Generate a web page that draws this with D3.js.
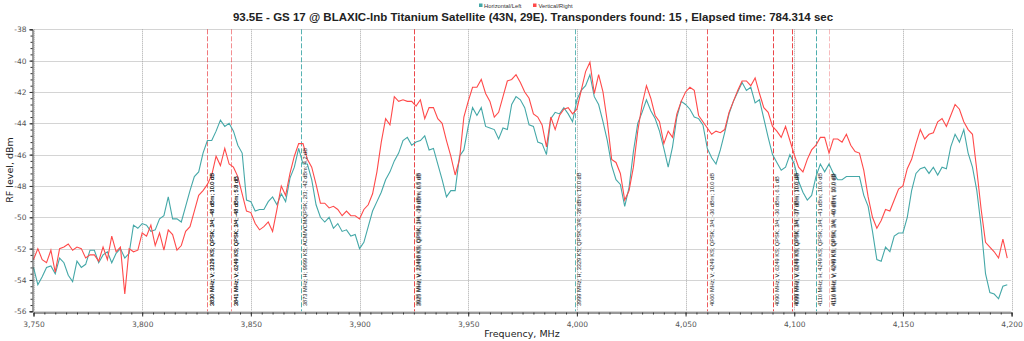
<!DOCTYPE html>
<html><head><meta charset="utf-8">
<script src="https://cdn.jsdelivr.net/npm/d3@7"></script>
<style>body{margin:0;background:#fff;}svg{display:block;}</style>
</head><body>
<svg id="chart" width="1024" height="341"></svg>
<script>
// ---- data ----
const startFreq = 3750;
const stepMHz = 2;
const horizontal = [
-53.2,-54.3,-53.8,-53.2,-53.1,-53.6,-52.6,-52.9,-53.7,-54.1,
-52.8,-53.2,-53.0,-52.1,-52.1,-52.9,-52.4,-52.2,-52.9,-52.3,
-52.0,-52.6,-52.3,-50.5,-50.7,-50.4,-50.5,-50.9,-50.8,-50.1,
-49.9,-48.7,-50.1,-50.1,-50.3,-49.3,-48.3,-47.4,-47.1,-45.9,
-45.1,-45.1,-44.5,-43.8,-44.2,-44.0,-44.5,-45.4,-45.9,-48.9,
-49.0,-49.6,-49.5,-49.5,-49.0,-48.7,-49.2,-48.5,-49.0,-47.5,
-46.8,-45.6,-46.6,-46.6,-47.6,-49.2,-50.0,-50.3,-50.0,-50.7,
-50.4,-50.9,-50.8,-51.2,-51.1,-52.0,-51.6,-50.6,-49.6,-49.0,
-48.4,-47.6,-47.1,-46.4,-45.9,-45.1,-44.9,-45.4,-45.2,-45.1,
-44.8,-45.7,-45.6,-46.6,-47.6,-48.7,-48.3,-48.3,-46.1,-45.7,
-44.2,-43.0,-43.5,-43.0,-44.2,-44.3,-44.4,-45.0,-44.3,-44.4,
-42.8,-42.3,-42.5,-43.0,-44.1,-44.2,-45.2,-45.3,-46.0,-43.7,
-43.3,-43.4,-43.0,-43.4,-43.9,-42.5,-41.9,-41.6,-40.9,-42.3,
-42.8,-43.9,-45.1,-46.7,-47.6,-47.9,-49.3,-48.1,-45.8,-44.0,
-43.3,-42.5,-43.2,-43.7,-44.5,-45.6,-46.8,-45.5,-43.6,-42.6,
-42.8,-43.1,-43.6,-43.7,-44.1,-45.6,-46.2,-46.6,-45.7,-44.6,
-43.4,-42.6,-42.0,-41.4,-41.9,-41.7,-42.7,-42.5,-43.7,-44.9,
-46.0,-46.5,-47.0,-46.8,-46.0,-46.6,-47.7,-48.4,-48.9,-48.6,
-47.4,-46.6,-47.1,-46.6,-47.2,-47.6,-47.6,-47.4,-47.4,-47.4,
-47.4,-48.6,-49.3,-50.9,-52.7,-52.8,-51.9,-52.2,-51.2,-51.0,
-51.0,-50.0,-48.3,-47.2,-46.9,-46.8,-47.2,-46.8,-47.3,-46.8,
-46.9,-45.5,-44.7,-45.2,-44.4,-45.9,-46.8,-48.3,-50.6,-53.6,
-54.8,-54.9,-55.2,-54.4,-54.3
];
const vertical = [
-52.7,-52.0,-52.7,-52.9,-52.1,-53.5,-52.0,-51.9,-51.7,-52.1,
-51.9,-52.0,-52.6,-52.4,-52.4,-52.8,-51.9,-52.7,-51.2,-52.2,
-51.9,-54.9,-52.0,-52.2,-52.1,-51.0,-51.2,-50.5,-51.8,-51.0,
-52.1,-50.8,-51.1,-52.1,-51.8,-50.9,-50.6,-49.6,-48.6,-48.3,
-47.9,-47.3,-46.1,-46.7,-45.6,-46.6,-46.8,-47.4,-48.5,-49.6,
-49.7,-50.4,-50.8,-50.6,-50.3,-50.9,-49.5,-48.0,-48.6,-47.2,
-46.1,-45.3,-45.3,-46.3,-46.8,-47.9,-49.1,-49.1,-49.4,-49.3,
-49.5,-49.9,-49.6,-49.9,-49.9,-50.1,-49.5,-49.2,-48.5,-47.1,
-45.2,-43.7,-44.1,-42.3,-42.6,-42.5,-42.6,-42.6,-42.9,-42.5,
-43.7,-43.0,-43.0,-43.7,-44.0,-45.1,-46.1,-47.3,-46.3,-43.6,
-42.6,-41.7,-41.7,-41.2,-42.1,-42.6,-43.6,-43.3,-42.3,-41.3,
-41.2,-40.9,-41.4,-42.0,-42.4,-43.4,-43.6,-44.1,-45.5,-43.6,
-44.4,-43.5,-43.1,-43.0,-43.4,-43.1,-41.9,-40.7,-40.1,-42.1,
-40.9,-42.0,-43.9,-46.3,-46.5,-47.2,-48.9,-48.3,-46.8,-44.5,
-42.8,-41.6,-42.4,-43.5,-43.9,-45.3,-44.5,-44.9,-43.4,-42.6,
-42.0,-41.7,-41.9,-43.5,-43.9,-44.3,-44.7,-44.5,-44.6,-44.4,
-43.3,-42.6,-41.9,-41.3,-41.3,-41.6,-41.1,-42.1,-43.0,-43.3,
-44.2,-44.5,-44.9,-44.2,-45.1,-46.0,-46.8,-47.1,-46.3,-45.7,
-45.4,-44.9,-44.9,-45.9,-45.0,-45.0,-45.2,-44.7,-45.4,-45.8,
-45.9,-47.0,-48.7,-50.0,-50.7,-50.2,-49.5,-49.6,-48.9,-48.2,
-48.0,-46.9,-46.3,-45.3,-44.4,-45.0,-44.7,-44.6,-43.9,-43.7,
-44.2,-43.5,-42.8,-43.1,-43.9,-44.4,-44.7,-47.0,-49.5,-51.6,
-51.9,-52.2,-52.6,-51.4,-52.6
];
const xTicks = [3750,3800,3850,3900,3950,4000,4050,4100,4150,4200];
const yTicks = [-38,-40,-42,-44,-46,-48,-50,-52,-54,-56];
// transponders (15 found; duplicates overlap)
const tpFreq  = [3830,3830,3841,3841,3873,3925,3925,3999,4060,4090,4099,4099,4110,4116,4116];
const tpPol   = ["V","V","V","V","H","V","V","H","V","V","V","V","H","V","V"];
const tpSR    = [3329,3329,6249,6249,9999,22498,22498,3329,4249,6249,6249,6249,4249,4249,4249];
const tpMod   = ["QPSK","QPSK","QPSK","QPSK","ACM/VCM/QPSK","QPSK","QPSK","QPSK","QPSK","QPSK","QPSK","QPSK","QPSK","QPSK","QPSK"];
const tpFec   = ["3/4","3/4","3/4","3/4","2/3","3/4","3/4","3/4","3/4","3/4","3/4","3/4","3/4","3/4","3/4"];
const tpLevel = [-48,-48,-48,-48,-42,-39,-39,-38,-36,-36,-37,-37,-41,-40,-40];
const tpSnr   = ["10.0","10.0","5.8","5.8","4.2","6.5","6.5","10.0","10.0","6.1","10.0","10.0","10.0","10.0","10.0"];
const titleText = "93.5E - GS 17 @ BLAXIC-lnb Titanium Satellite (43N, 29E). Transponders found: 15 , Elapsed time: 784.314 sec";

// ---- drawing ----
const TEAL = "#45a8a8", RED = "#ff4a4a";
const svg = d3.select("#chart");
const x = d3.scaleLinear().domain([3750,4200]).range([33.5,1011.6]);
const y = d3.scaleLinear().domain([-56,-38]).range([311.3,29.3]);
const freqs = horizontal.map((_,i)=>startFreq+i*stepMHz);

// grid
const g = svg.append("g");
g.selectAll(".vg").data(xTicks).join("line")
  .attr("x1",d=>Math.round(x(d))+0.5).attr("x2",d=>Math.round(x(d))+0.5)
  .attr("y1",y(-38)).attr("y2",y(-56))
  .attr("stroke","#a8a8a8").attr("stroke-dasharray","1,1").attr("stroke-width",1);
g.selectAll(".hg").data(yTicks).join("line")
  .attr("x1",x(3750)).attr("x2",x(4200))
  .attr("y1",d=>Math.round(y(d))+0.5).attr("y2",d=>Math.round(y(d))+0.5)
  .attr("stroke","#a8a8a8").attr("stroke-dasharray","1,1").attr("stroke-width",1);

// transponder markers (per-line opacity; duplicates overlap and darken)
const lineAlpha = {3830:0.38,3841:0.3,3873:0.85,3925:0.6,3999:0.8,4060:0.75,4090:0.85,4099:0.6,4110:0.9,4116:0.17};
const tpIdx = d3.range(tpFreq.length);
svg.append("g").selectAll("line").data(tpIdx).join("line")
  .attr("x1",i=>Math.round(x(tpFreq[i]))+0.5).attr("x2",i=>Math.round(x(tpFreq[i]))+0.5)
  .attr("y1",y(-38)).attr("y2",y(-56))
  .attr("stroke",i=>tpPol[i]==="H"?"#3aa5a5":"#e8262a")
  .attr("stroke-opacity",i=>lineAlpha[tpFreq[i]])
  .attr("stroke-width",1).attr("stroke-dasharray","5,2");

// series
const line = d3.line().x((d,i)=>x(freqs[i])).y(d=>y(d));
svg.append("path").datum(horizontal).attr("d",line).attr("fill","none")
  .attr("stroke",TEAL).attr("stroke-width",1.1);
svg.append("path").datum(vertical).attr("d",line).attr("fill","none")
  .attr("stroke",RED).attr("stroke-width",1.1);

// transponder labels
const seen = {};
svg.append("g").selectAll("text").data(tpIdx).join("text")
  .attr("transform",i=>{
    const k = seen[tpFreq[i]] = (seen[tpFreq[i]]||0)+1;
    return `translate(${x(tpFreq[i])+6.3+(k-1)*0.6},306) rotate(-90)`;})
  .attr("font-family","Liberation Sans, Arial, sans-serif").attr("font-size",5.6)
  .attr("fill","#222")
  .text(i=>`${tpFreq[i]} MHz; ${tpPol[i]}; ${tpSR[i]} KS; ${tpMod[i]}; ${tpFec[i]}; ${tpLevel[i]} dBm; ${tpSnr[i]} dB`);

// axes
svg.append("g").attr("transform","translate(32.5,0)")
  .call(d3.axisLeft(y).tickValues(yTicks).tickSize(3).tickPadding(3).tickFormat(d=>String(d)));
svg.append("g").attr("transform","translate(32.5,0)")
  .call(d3.axisLeft(y).tickValues(d3.range(-56,-37.9,0.4)).tickSize(2).tickFormat(""))
  .call(a=>a.select(".domain").remove());
svg.append("g").attr("transform","translate(0,312.5)")
  .call(d3.axisBottom(x).tickValues(xTicks).tickSize(4).tickPadding(5).tickFormat(d3.format(",")));
svg.append("g").attr("transform","translate(0,312.5)")
  .call(d3.axisBottom(x).tickValues(d3.range(3750,4201,5)).tickSize(2).tickFormat(""))
  .call(a=>a.select(".domain").remove());
svg.selectAll(".tick text").attr("font-family","DejaVu Sans, Verdana, sans-serif").attr("font-size",7.5).attr("fill","#555");
svg.selectAll(".domain").attr("stroke","#333");
svg.selectAll(".tick line").attr("stroke","#333");

// titles
svg.append("text").attr("x",533).attr("y",21).attr("text-anchor","middle")
  .attr("font-family","Liberation Sans, Arial, sans-serif").attr("font-weight","bold").attr("font-size",11.5)
  .attr("fill","#222").text(titleText);
svg.append("text").attr("x",522).attr("y",337).attr("text-anchor","middle")
  .attr("font-family","DejaVu Sans, Verdana, sans-serif").attr("font-size",9.5).attr("fill","#222")
  .text("Frequency, MHz");
svg.append("text").attr("transform","translate(13,170) rotate(-90)").attr("text-anchor","middle")
  .attr("font-family","DejaVu Sans, Verdana, sans-serif").attr("font-size",9.5).attr("fill","#222")
  .text("RF level, dBm");

// legend
const legend = svg.append("g");
legend.append("rect").attr("x",479).attr("y",3.5).attr("width",3.5).attr("height",3.5).attr("fill",TEAL);
legend.append("text").attr("x",484).attr("y",7.5).attr("font-family","Liberation Sans, Arial, sans-serif")
  .attr("font-size",5.8).attr("fill","#333").text("Horizontal/Left");
legend.append("rect").attr("x",533).attr("y",3.5).attr("width",3.5).attr("height",3.5).attr("fill",RED);
legend.append("text").attr("x",538.5).attr("y",7.5).attr("font-family","Liberation Sans, Arial, sans-serif")
  .attr("font-size",5.8).attr("fill","#333").text("Vertical/Right");
</script>
</body></html>
